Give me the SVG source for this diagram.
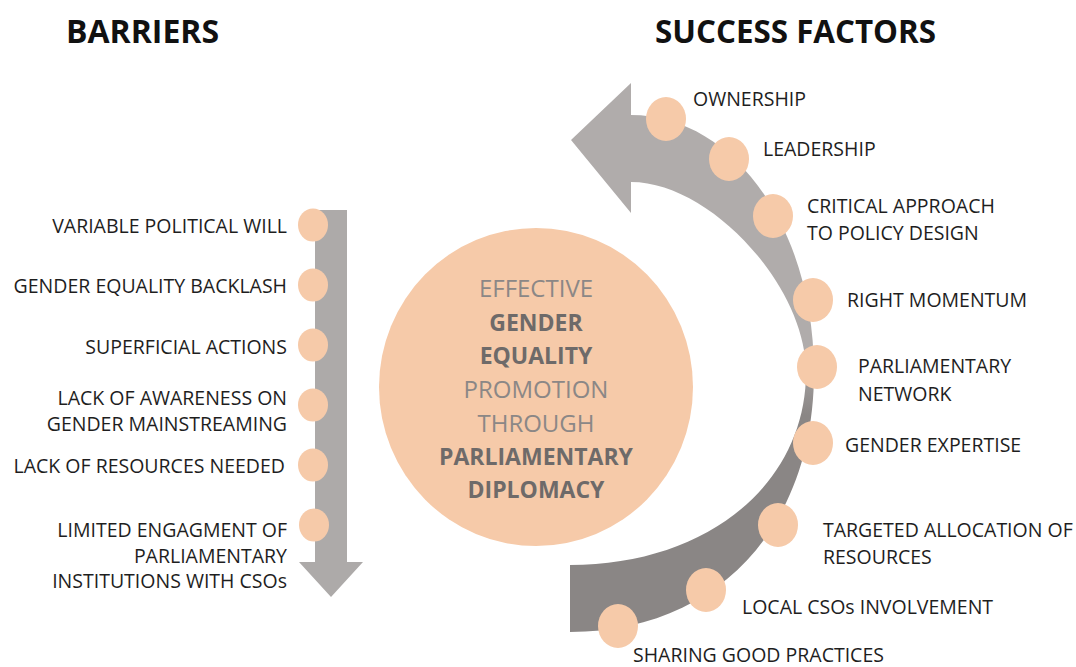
<svg xmlns="http://www.w3.org/2000/svg" width="1076" height="667" viewBox="0 0 1076 667">
<defs>
<linearGradient id="arcGrad" gradientUnits="userSpaceOnUse" x1="0" y1="350" x2="0" y2="415">
<stop offset="0" stop-color="#b0acab"/>
<stop offset="1" stop-color="#8a8685"/>
</linearGradient>
<style>
.title{font-family:"Open Sans","Liberation Sans",sans-serif;font-weight:700;font-size:32px;fill:#111111}
.lbl{font-family:"Open Sans","Liberation Sans",sans-serif;font-size:19.5px;fill:#1e1e1e}
.lblL{text-anchor:end}
.dot{fill:#f6caa9}
.ctr{font-family:"Open Sans","Liberation Sans",sans-serif;font-size:24px;text-anchor:middle}
.reg{fill:#8b8786}
.bold{fill:#6e6a69;font-weight:700;font-size:23px}
</style>
</defs>
<rect width="1076" height="667" fill="#ffffff"/>

<g id="titles">
<text class="title" x="66" y="43">BARRIERS</text>
<text class="title" x="655" y="43" textLength="281" lengthAdjust="spacingAndGlyphs">SUCCESS FACTORS</text>
</g>

<g id="connectors">
<path id="barriers-arrow" d="M315,210 L347,210 L347,562 L363,562 L331,597 L299,562 L315,562 Z" fill="#adaaa9"/>
<path id="success-arrow" d="M631,83 L571,140 L631,213 L631,182 C710,182 806,286 806,372 C806,484 707,565 570,565 L570,632 C716,632 814,528 814,372 C814,228 733,115 631,115 Z" fill="url(#arcGrad)"/>
</g>

<g id="center">
<ellipse cx="536" cy="387" rx="157" ry="159" class="dot"/>
<text class="ctr reg" x="536" y="297">EFFECTIVE</text>
<text class="ctr bold" x="536" y="331">GENDER</text>
<text class="ctr bold" x="536" y="364">EQUALITY</text>
<text class="ctr reg" x="536" y="398">PROMOTION</text>
<text class="ctr reg" x="536" y="432">THROUGH</text>
<text class="ctr bold" x="536" y="465">PARLIAMENTARY</text>
<text class="ctr bold" x="536" y="498">DIPLOMACY</text>
</g>

<g id="barrier-1"><ellipse class="dot" cx="313" cy="225" rx="15" ry="16.5"/><text class="lbl lblL" x="287" y="233">VARIABLE POLITICAL WILL</text></g>
<g id="barrier-2"><ellipse class="dot" cx="313" cy="285" rx="15" ry="16.5"/><text class="lbl lblL" x="287" y="293">GENDER EQUALITY BACKLASH</text></g>
<g id="barrier-3"><ellipse class="dot" cx="313" cy="345" rx="15" ry="16.5"/><text class="lbl lblL" x="287" y="354">SUPERFICIAL ACTIONS</text></g>
<g id="barrier-4"><ellipse class="dot" cx="313" cy="405" rx="15" ry="16.5"/><text class="lbl lblL" x="287" y="405">LACK OF AWARENESS ON</text><text class="lbl lblL" x="287" y="431">GENDER MAINSTREAMING</text></g>
<g id="barrier-5"><ellipse class="dot" cx="313" cy="465" rx="15" ry="16.5"/><text class="lbl lblL" x="285" y="473">LACK OF RESOURCES NEEDED</text></g>
<g id="barrier-6"><ellipse class="dot" cx="314" cy="525" rx="15" ry="16.5"/><text class="lbl lblL" x="287" y="537">LIMITED ENGAGMENT OF</text><text class="lbl lblL" x="287" y="563">PARLIAMENTARY</text><text class="lbl lblL" x="287" y="588">INSTITUTIONS WITH CSOs</text></g>

<g id="factor-1"><ellipse class="dot" cx="666" cy="119" rx="20" ry="22"/><text class="lbl" x="693" y="106">OWNERSHIP</text></g>
<g id="factor-2"><ellipse class="dot" cx="729" cy="159" rx="20" ry="22"/><text class="lbl" x="763" y="156">LEADERSHIP</text></g>
<g id="factor-3"><ellipse class="dot" cx="773" cy="216" rx="20" ry="22"/><text class="lbl" x="807" y="213">CRITICAL APPROACH</text><text class="lbl" x="807" y="240">TO POLICY DESIGN</text></g>
<g id="factor-4"><ellipse class="dot" cx="813" cy="300" rx="20" ry="22"/><text class="lbl" x="847" y="307">RIGHT MOMENTUM</text></g>
<g id="factor-5"><ellipse class="dot" cx="817" cy="367" rx="20" ry="22"/><text class="lbl" x="858" y="373">PARLIAMENTARY</text><text class="lbl" x="858" y="401">NETWORK</text></g>
<g id="factor-6"><ellipse class="dot" cx="813" cy="443" rx="20" ry="22"/><text class="lbl" x="845" y="452">GENDER EXPERTISE</text></g>
<g id="factor-7"><ellipse class="dot" cx="778" cy="525" rx="20" ry="22"/><text class="lbl" x="823" y="537">TARGETED ALLOCATION OF</text><text class="lbl" x="823" y="564">RESOURCES</text></g>
<g id="factor-8"><ellipse class="dot" cx="706" cy="590" rx="20" ry="22"/><text class="lbl" x="742" y="614">LOCAL CSOs INVOLVEMENT</text></g>
<g id="factor-9"><ellipse class="dot" cx="618" cy="626" rx="20" ry="22"/><text class="lbl" x="633" y="662">SHARING GOOD PRACTICES</text></g>
</svg>
